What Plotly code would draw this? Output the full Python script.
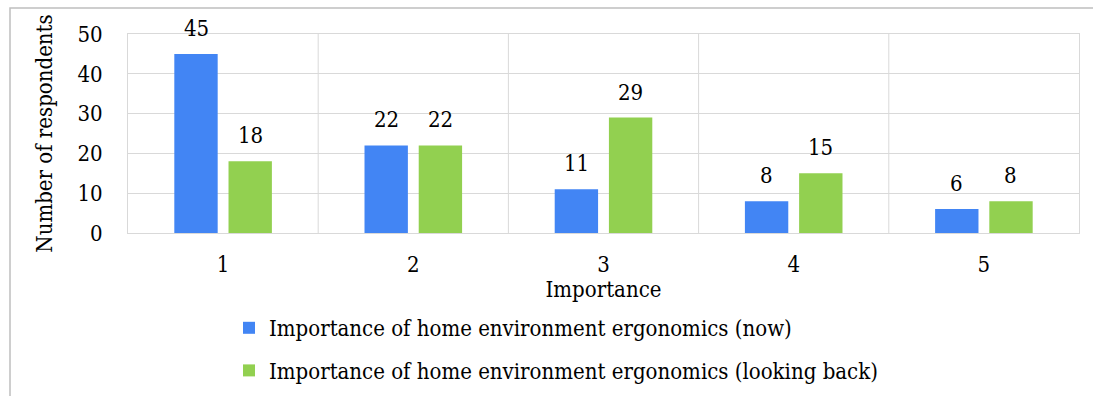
import plotly.graph_objects as go

categories = ["1", "2", "3", "4", "5"]
now_counts = [45, 22, 11, 8, 6]
looking_back_counts = [18, 22, 29, 15, 8]
series_names = [
    "Importance of home environment ergonomics (now)",
    "Importance of home environment ergonomics (looking back)",
]
y_ticks = [0, 10, 20, 30, 40, 50]

FONT = "DejaVu Serif Condensed"
FS = 22
GRID = "#d9d9d9"
COLORS = ["#4285f4", "#92d050"]

fig = go.Figure()
for name, vals, col, grp in zip(series_names, [now_counts, looking_back_counts], COLORS, ["a", "b"]):
    fig.add_trace(go.Bar(
        x=categories, y=vals, name=name,
        marker=dict(color=col, line=dict(width=0)),
        legendgroup=grp,
    ))

# value labels above each bar
for vals, shift in [(now_counts, -27), (looking_back_counts, 27)]:
    for i, v in enumerate(vals):
        fig.add_annotation(
            x=i, y=v, text=str(v), showarrow=False,
            xshift=shift, yshift=11, yanchor="bottom",
            font=dict(family=FONT, size=FS, color="#000000"),
        )

L, R, T, B = 128, 14, 34, 163
W, H = 1093, 396
pw, ph = W - L - R, H - T - B

fig.update_layout(
    width=W, height=H,
    margin=dict(l=L, r=R, t=T, b=B, autoexpand=False),
    paper_bgcolor="white", plot_bgcolor="white",
    barmode="group", bargap=0.43, bargroupgap=0.2,
    font=dict(family=FONT, size=FS, color="#000000"),
    showlegend=True,
    legend=dict(
        orientation="v", x=(229 - L) / pw, y=-(307 - T - ph) / ph,
        xanchor="left", yanchor="top",
        font=dict(family=FONT, size=FS, color="#000000"),
        tracegroupgap=11, itemwidth=30, bgcolor="rgba(0,0,0,0)",
    ),
    shapes=[dict(
        type="rect", xref="paper", yref="paper",
        x0=(10 - L) / pw, x1=(W + 20 - L) / pw,
        y0=-(H + 20 - T - ph) / ph, y1=1 + (T - 8) / ph,
        line=dict(color="#bfbfbf", width=1.5), fillcolor="rgba(0,0,0,0)",
        layer="below",
    )],
)

fig.update_xaxes(
    type="category", range=[-0.5, 4.5], showgrid=False,
    showline=True, linecolor=GRID, linewidth=1, mirror=True,
    ticks="", ticklabelstandoff=12,
    title=dict(text="Importance", standoff=3, font=dict(family=FONT, size=FS)),
    tickfont=dict(family=FONT, size=FS),
)
for i in range(1, len(categories)):
    fig.add_vline(x=i - 0.5, line=dict(color=GRID, width=1), layer="below")

fig.update_yaxes(
    range=[0, 50], tickvals=y_ticks,
    showgrid=True, gridcolor=GRID, gridwidth=1,
    showline=True, linecolor=GRID, linewidth=1, mirror=True,
    zeroline=False, ticks="", ticklabelstandoff=20,
    title=dict(text="Number of respondents", standoff=18, font=dict(family=FONT, size=FS)),
    tickfont=dict(family=FONT, size=FS),
)

fig.write_html("out.html")
